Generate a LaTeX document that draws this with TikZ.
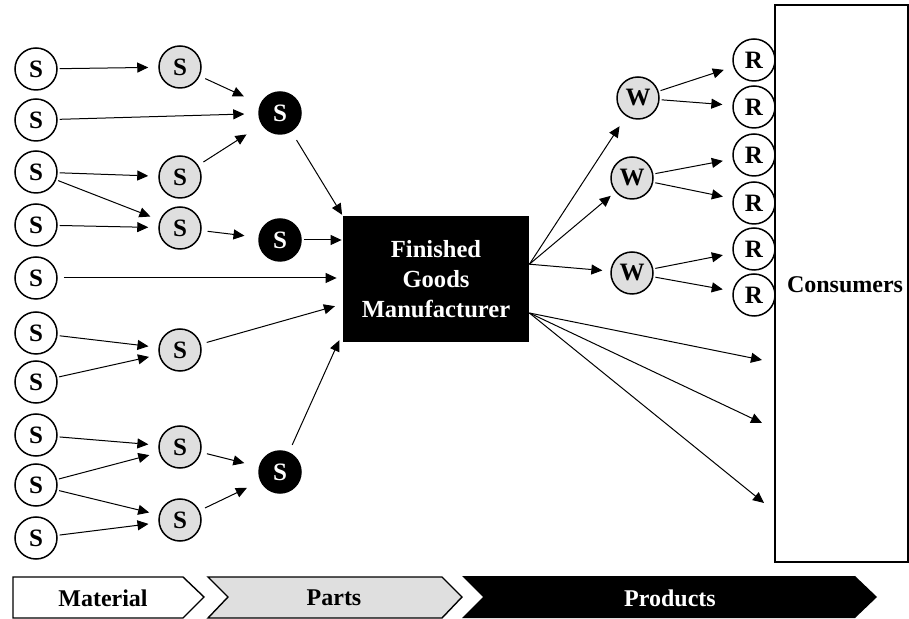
\documentclass[tikz,border=0pt]{standalone}
\usepackage{fontspec}
\setmainfont{Liberation Serif}
\usetikzlibrary{arrows.meta}

\tikzset{
  firm/.style={circle, draw, line width=0.75pt, minimum size=21pt, inner sep=0pt,
    font=\bfseries\fontsize{12.5}{14}\selectfont},
  raw/.style={firm, fill=white},
  part/.style={firm, fill=gray!25},
  tier/.style={firm, fill=black, text=white},
  maker/.style={fill=black, text=white, align=center, minimum width=93pt,
    minimum height=63pt, font=\bfseries\fontsize{12.3}{15}\selectfont},
  arr/.style={-{Triangle[length=5.5pt,width=5pt]}, line width=0.5pt,
    shorten <=1pt, shorten >=5pt},
  stage/.style={font=\bfseries\fontsize{12}{14}\selectfont},
}

\begin{document}
\begin{tikzpicture}[x=0.5pt,y=-0.5pt]
  \useasboundingbox (0,0) rectangle (909,619);

  % raw material suppliers
  \foreach \i/\y in {1/69,2/120,3/172,4/225,5/278,6/333,7/382,8/435,9/485,10/538}
    \node[raw] (m\i) at (36,\y) {S};

  % part suppliers
  \node[part] (p1) at (180,67) {S};
  \node[part] (p2) at (180,177) {S};
  \node[part] (p3) at (180,228) {S};
  \node[part] (p4) at (180,350) {S};
  \node[part] (p5) at (180,447) {S};
  \node[part] (p6) at (180,520) {S};

  % first tier suppliers
  \node[tier] (t1) at (280,113) {S};
  \node[tier] (t2) at (280,240) {S};
  \node[tier] (t3) at (280,472) {S};

  % manufacturer
  \node[maker] (mfr) at (436,279) {Finished\\Goods\\Manufacturer};

  % wholesalers and retailers
  \node[part] (w1) at (638,98) {W};
  \node[part] (w2) at (632,178) {W};
  \node[part] (w3) at (632,273) {W};
  \foreach \i/\y in {1/60,2/107,3/155,4/203,5/249,6/295}
    \node[raw] (r\i) at (754,\y) {R};

  % consumers
  \draw[line width=1pt] (775,5) rectangle (908,562);
  \node[stage] (cons) at (845,285) {Consumers};
  \coordinate (c1) at (762,360);
  \coordinate (c2) at (762,423);
  \coordinate (c3) at (764,503);

  % material to parts
  \draw[arr] (m1) -- (p1);
  \draw[arr] (m3) -- (p2);
  \draw[arr] (m3) -- (p3);
  \draw[arr] (m4) -- (p3);
  \draw[arr] (m6) -- (p4);
  \draw[arr] (m7) -- (p4);
  \draw[arr] (m8) -- (p5);
  \draw[arr] (m9) -- (p5);
  \draw[arr] (m9) -- (p6);
  \draw[arr] (m10) -- (p6);

  % parts to first tier
  \draw[arr, shorten <=3pt, shorten >=9pt] (p1) -- (t1);
  \draw[arr, shorten >=7pt] (m2) -- (t1);
  \draw[arr, shorten <=3pt, shorten >=9pt] (p2) -- (t1);
  \draw[arr, shorten <=3pt, shorten >=7pt] (p3) -- (t2);
  \draw[arr, shorten <=3pt, shorten >=7.5pt] (p5) -- (t3);
  \draw[arr, shorten <=3pt, shorten >=7.5pt] (p6) -- (t3);

  % into the manufacturer
  \draw[arr, shorten <=5pt, shorten >=0.5pt] (t1) -- (mfr.north west);
  \draw[arr, shorten >=0.5pt] (t2) -- (t2 -| mfr.west);
  \draw[arr, shorten <=3pt, shorten >=3pt] (m5) -- (m5 -| mfr.west);
  \draw[arr, shorten <=3pt, shorten >=4pt] (p4) -- (mfr.195);
  \draw[arr, shorten <=4pt, shorten >=4pt] (t3) -- (mfr.210);

  % out of the manufacturer
  \draw[arr, shorten <=0pt, shorten >=6pt] (mfr.9) -- (w1);
  \draw[arr, shorten <=0pt, shorten >=3pt] (mfr.9) -- (w2);
  \draw[arr, shorten <=0pt, shorten >=4pt] (mfr.9) -- (w3);
  \draw[arr, shorten <=0pt, shorten >=0pt] (mfr.-20) -- (c1);
  \draw[arr, shorten <=0pt, shorten >=0pt] (mfr.-20) -- (c2);
  \draw[arr, shorten <=0pt, shorten >=0pt] (mfr.-20) -- (c3);

  % wholesalers to retailers
  \draw[arr] (w1) -- (r1);
  \draw[arr] (w1) -- (r2);
  \draw[arr] (w2) -- (r3);
  \draw[arr] (w2) -- (r4);
  \draw[arr] (w3) -- (r5);
  \draw[arr] (w3) -- (r6);

  % stage chevrons
  \draw[line width=0.7pt, fill=white] (13,577) -- (183,577) -- (204,597) -- (183,618)
    -- (13,618) -- cycle;
  \draw[line width=0.7pt, fill=gray!25] (208,577) -- (442,577) -- (462,597) -- (442,618)
    -- (208,618) -- (228,597) -- cycle;
  \fill[black] (462,576) -- (855,576) -- (877,597) -- (855,618) -- (462,618)
    -- (483,597) -- cycle;
  \node[stage] (mat) at (103,598) {Material};
  \node[stage] (prt) at (334,598) {Parts};
  \node[stage, text=white] (prd) at (670,598) {Products};
\end{tikzpicture}
\end{document}
